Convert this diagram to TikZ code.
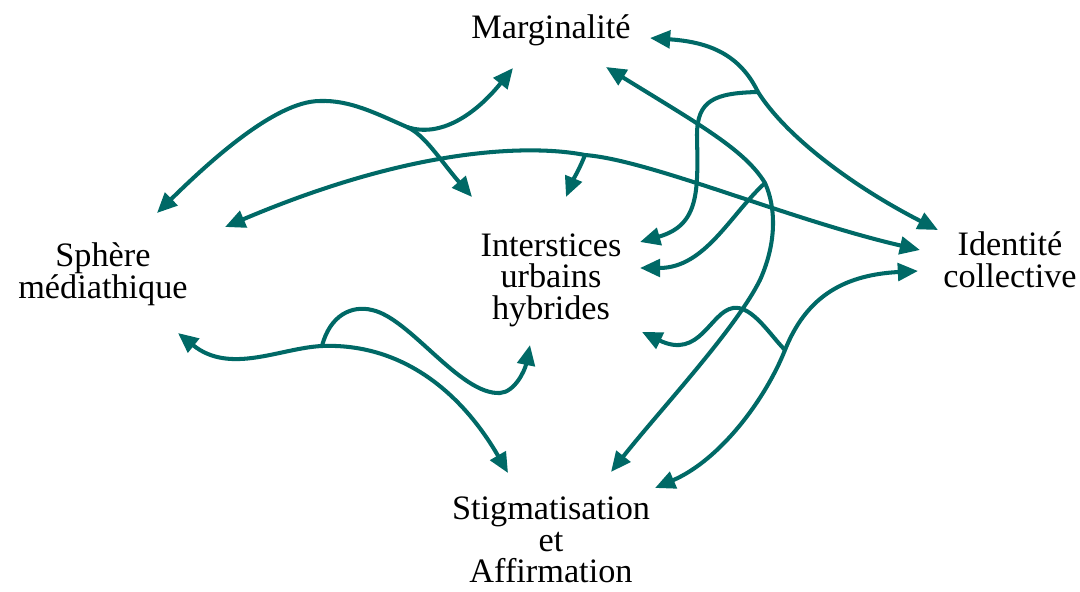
\documentclass[tikz,border=0pt]{standalone}
\usepackage{fontspec}
\setmainfont{Liberation Serif}
\usetikzlibrary{arrows.meta,calc}
\definecolor{linkteal}{RGB}{0,105,102}
\tikzset{term/.style={
    align=center,
    inner sep=0pt,
    font=\fontsize{19.5}{18}\selectfont
  },
  link/.style={draw=linkteal,line width=2.3pt,->},
  dlink/.style={link,<->},
  >={Triangle[length=11.5pt,width=10pt]},
}
\begin{document}
\begin{tikzpicture}[x=0.02cm,y=-0.02cm]
  \useasboundingbox (0,0) rectangle (1080,592);
  \node [term] (marg) at (551,30) {Marginalité};
  \node [term] (sph) at (103,274) {Sphère\\médiathique};
  \node [term] (inter) at (551,280) {Interstices\\urbains\\hybrides};
  \node [term] (ident) at (1010,260) {Identité\\collective};
  \node [term] (stig) at (551,540) {Stigmatisation\\et\\Affirmation};
  \coordinate (j1) at (407,127);
  \coordinate (j2) at (585,155);
  \coordinate (j3) at (758,92);
  \coordinate (j4) at (765,183);
  \coordinate (j5) at (785,350);
  \coordinate (j6) at (322,346);
  % sphere - marginalite
  \draw[dlink] ($(sph)+(54,-61)$) .. controls (208,163) and (275,101) .. (320,101)
    .. controls (350,100) and (375,113) .. (j1)
    .. controls (440,138) and (475,115) .. ($(marg)+(-38,38)$);
  \draw[link] (j1) .. controls (425,135) and (440,160) .. ($(inter)+(-79,-83)$);
  % sphere - identite
  \draw[dlink] ($(sph)+(122,-47)$) .. controls (430,140) and (545,147) .. (j2)
    .. controls (650,160) and (790,220) .. ($(ident)+(-90,-10)$);
  \draw[link] (j2) .. controls (580,168) and (573,180) .. ($(inter)+(15,-83)$);
  % marginalite - identite
  \draw[dlink] ($(marg)+(99,8)$) .. controls (710,42) and (740,55) .. (j3)
    .. controls (785,135) and (850,185) .. ($(ident)+(-72,-30)$);
  \draw[link] (j3) .. controls (715,93) and (697,100) .. (697,135)
    .. controls (698,190) and (700,225) .. ($(inter)+(89,-38)$);
  % marginalite - stigmatisation
  \draw[dlink] ($(marg)+(55,37)$) .. controls (700,125) and (745,150) .. (j4)
    .. controls (775,205) and (778,240) .. (760,280)
    .. controls (735,330) and (660,410) .. ($(stig)+(60,-68)$);
  \draw[link] (j4) .. controls (730,215) and (705,268) .. ($(inter)+(89,-12)$);
  % identite - stigmatisation
  \draw[dlink] ($(ident)+(-92,11)$) .. controls (840,275) and (805,300) .. (j5)
    .. controls (765,400) and (720,460) .. ($(stig)+(104,-52)$);
  \draw[link] (j5) .. controls (770,335) and (752,305) .. (733,308)
    .. controls (710,312) and (700,360) .. ($(inter)+(91,52)$);
  % sphere - stigmatisation
  \draw[dlink] ($(sph)+(75,59)$) .. controls (230,375) and (280,348) .. (j6)
    .. controls (400,343) and (460,390) .. ($(stig)+(-43,-67)$);
  \draw[link] (j6) .. controls (330,315) and (352,305) .. (372,310)
    .. controls (410,318) and (460,395) .. (500,393)
    .. controls (515,392) and (525,370) .. ($(inter)+(-21,65)$);
\end{tikzpicture}
\end{document}
